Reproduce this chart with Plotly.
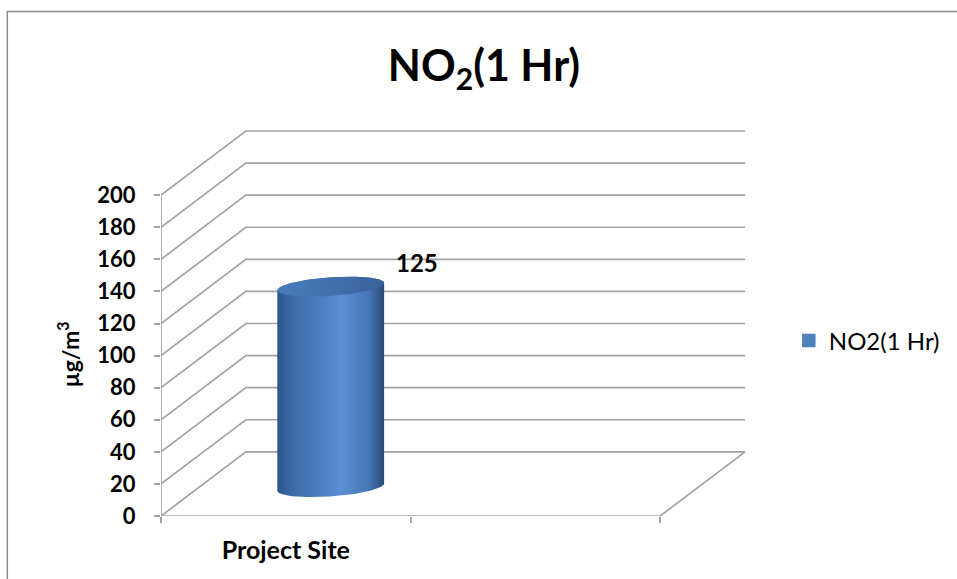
import numpy as np
import plotly.graph_objects as go

# ---- data ----
categories = ["Project Site", ""]
series_name = "NO2(1 Hr)"
values = [125]
y_ticks = [0, 20, 40, 60, 80, 100, 120, 140, 160, 180, 200]

# ---- layout geometry ----
W, H = 957, 579
ML, MR, MT, MB = 161, 204, 123, 63
PW, PH = W - ML - MR, H - MT - MB
X_RANGE = [0, 2.36]
Y_RANGE = [0, 245]
ppx = PW / (X_RANGE[1] - X_RANGE[0])   # pixels per x unit
ppy = PH / (Y_RANGE[1] - Y_RANGE[0])   # pixels per y unit

def paper_x(px):
    return (px - ML) / PW

def paper_y(py):
    return (H - MB - py) / PH

# depth of the pseudo-3D box (back wall offset)
DEPTH_DX = 0.34
DEPTH_DY = 40
n_slots = len(categories)

GRID = "#a3a3a3"
fig = go.Figure()

# walls: front diagonals + back-wall gridlines + floor
gx, gy = [], []
for v in y_ticks:
    gx += [0, DEPTH_DX, n_slots + DEPTH_DX, None]
    gy += [v, v + DEPTH_DY, v + DEPTH_DY, None]
gx += [0, n_slots, n_slots + DEPTH_DX, None, 0, 0]
gy += [0, 0, DEPTH_DY, None, 0, y_ticks[-1]]
fig.add_trace(go.Scatter(x=gx, y=gy, mode="lines",
                         line=dict(color=GRID, width=1.7),
                         hoverinfo="skip", showlegend=False))

# cylinder for each value
ax_r = 50 / ppx          # horizontal semi-axis
bx_r = 19.5 / ppx        # depth skew of the ellipse
by_r = 10 / ppy          # vertical semi-axis
bar_depth_x = 0.18
bar_base = 18

def ellipse(xc, yc, t):
    return xc + ax_r * np.cos(t) + bx_r * np.sin(t), yc + by_r * np.sin(t)

t_r = np.arctan2(bx_r, ax_r)
t_l = t_r + np.pi
for i, val in enumerate(values):
    xc = i + 0.5 + bar_depth_x
    y0 = bar_base
    y1 = bar_base + val
    tb = np.linspace(t_l, t_r + 2 * np.pi, 80)
    tt = np.linspace(t_r, t_l, 80)
    bx_, by_ = ellipse(xc, y0, tb)
    tx_, ty_ = ellipse(xc, y1, tt)
    body_x = np.concatenate([bx_, tx_, bx_[:1]])
    body_y = np.concatenate([by_, ty_, by_[:1]])
    fig.add_trace(go.Scatter(
        x=body_x, y=body_y, mode="lines", fill="toself",
        line=dict(width=0),
        fillgradient=dict(type="horizontal", colorscale=[
            [0.0, "#2c5489"], [0.12, "#3b68a4"], [0.6, "#5a8fd5"],
            [0.85, "#4677b6"], [1.0, "#2b4c7b"]]),
        hoverinfo="skip", showlegend=False))
    tc = np.linspace(0, 2 * np.pi, 120)
    cx_, cy_ = ellipse(xc, y1, tc)
    fig.add_trace(go.Scatter(
        x=cx_, y=cy_, mode="lines", fill="toself",
        line=dict(width=0),
        fillgradient=dict(type="horizontal", colorscale=[
            [0.0, "#4a7cbd"], [0.5, "#4171ad"], [1.0, "#39639a"]]),
        hoverinfo="skip", showlegend=False))
    fig.add_annotation(x=xc + DEPTH_DX, y=y1, text=f"<b>{val}</b>",
                       showarrow=False, yshift=24, xshift=1,
                       font=dict(family="Lato", size=24, color="black"))

# legend entry
fig.add_trace(go.Bar(x=[None], y=[None], name=series_name,
                     marker=dict(color="#4f81bd",
                                 line=dict(color="#4f81bd", width=1.5))))

labelled = [(i + 0.5, c) for i, c in enumerate(categories) if c]

fig.update_layout(
    width=W, height=H,
    margin=dict(l=ML, r=MR, t=MT, b=MB),
    paper_bgcolor="white", plot_bgcolor="white",
    title=dict(text="<b>NO<sub>2</sub>(1 Hr)</b>",
               x=484 / W, xref="container", xanchor="center",
               y=1 - 66 / H, yref="container", yanchor="middle",
               font=dict(family="Lato", size=43, color="black")),
    xaxis=dict(range=X_RANGE, showgrid=False, zeroline=False, showline=False,
               tickvals=[p for p, _ in labelled], ticktext=[c for _, c in labelled],
               ticks="", ticklabelstandoff=17,
               tickfont=dict(family="Lato", size=25, color="black", weight="bold"),
               minor=dict(tickvals=list(range(n_slots + 1)), ticks="outside",
                          ticklen=6, tickcolor=GRID, tickwidth=1.7)),
    yaxis=dict(range=Y_RANGE, showgrid=False, zeroline=False, showline=False,
               tickvals=y_ticks, ticks="outside", ticklen=6,
               tickcolor=GRID, tickwidth=1.7, ticklabelstandoff=14,
               tickfont=dict(family="Lato", size=22, color="black", weight="bold")),
    legend=dict(x=paper_x(792), y=paper_y(341), xanchor="left", yanchor="middle",
                font=dict(family="Lato", size=24, color="black"),
                bgcolor="rgba(0,0,0,0)"),
    showlegend=True,
)

fig.add_annotation(text="<b>µg/m<sup>3</sup></b>", textangle=-90,
                   x=paper_x(68), y=paper_y(354), xref="paper", yref="paper",
                   xanchor="center", yanchor="middle",
                   showarrow=False,
                   font=dict(family="Lato", size=23, color="black"))

# chart border
fig.add_shape(type="rect", xref="paper", yref="paper",
              x0=paper_x(6.5), x1=paper_x(W + 20),
              y0=paper_y(H + 20), y1=paper_y(11.5),
              line=dict(color="#8c8c8c", width=1.5))

fig.write_html("out.html")
